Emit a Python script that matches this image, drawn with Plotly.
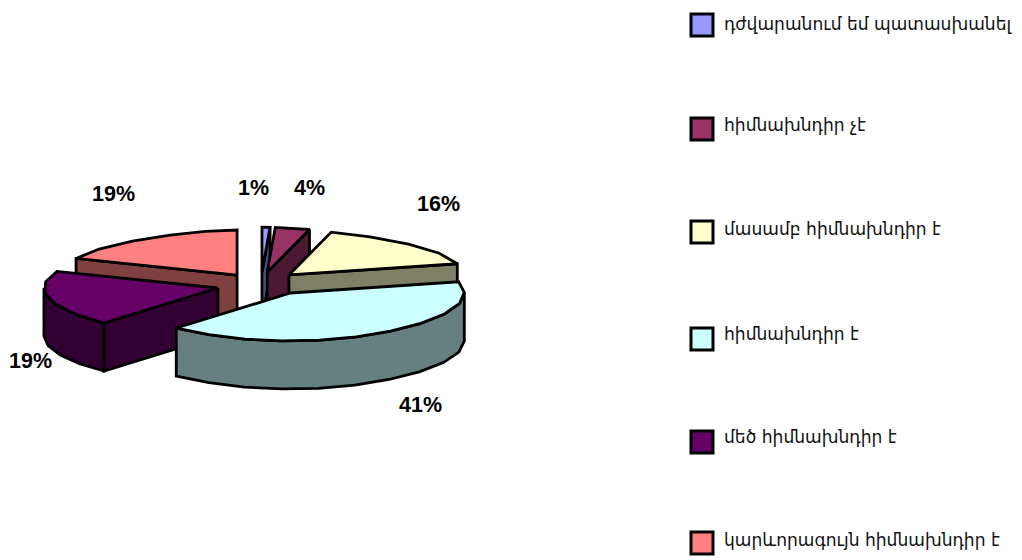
import math
import plotly.graph_objects as go

# ---- data ----
categories = ["դժվարանում եմ պատասխանել", "հիմնախնդիր չէ", "մասամբ հիմնախնդիր է",
              "հիմնախնդիր է", "մեծ հիմնախնդիր է", "կարևորագույն հիմնախնդիր է"]
values = [1, 4, 16, 41, 19, 19]
colors = ["#9999FF", "#993366", "#FFFFCC", "#CCFFFF", "#660066", "#FF8080"]

# ---- layout constants of the projected pie ----
CX, CY = 255, 285
RX, RY_BACK, RY_FRONT, DEPTH = 174, 45, 48, 48
PULL_X = [0.04, 0.07, 0.195, 0.203, -0.213, -0.103]
PULL_Y = [-0.265, -0.265, -0.21, 0.167, 0.0625, -0.208]
DRAW_ORDER = [5, 0, 1, 2, 4, 3]
LABEL_X = [253, 309, 438, 420, 30, 113.5]
LABEL_Y = [187.5, 187.5, 203.5, 404.5, 360.5, 193.5]
LEGEND_Y = [25, 129, 232, 339, 442, 543]
LEGEND_TEXT_Y = [24, 125, 229, 334, 437, 540]
STEP = 13.0
PAGE_MARGIN = 8


def half(c):
    r, g, b = (int(c[i:i + 2], 16) // 2 for i in (1, 3, 5))
    return f"#{r:02x}{g:02x}{b:02x}"


def rim(theta):
    t = math.radians(theta)
    c = math.cos(t)
    sx = 1 - (0.26 * c ** 4 if c > 0 else 0.08 * c * c)
    return RX * sx * math.sin(t), -(RY_BACK if c > 0 else RY_FRONT) * c


def arc(a, b):
    n = max(1, round((b - a) / STEP))
    return [rim(a + (b - a) * i / n) for i in range(n + 1)]


fig = go.Figure()


def poly(pts, fill):
    xs = [p[0] for p in pts] + [pts[0][0]]
    ys = [p[1] for p in pts] + [pts[0][1]]
    fig.add_trace(go.Scatter(x=xs, y=ys, mode="lines", fill="toself", fillcolor=fill,
                             line=dict(color="black", width=2.8), hoverinfo="skip",
                             showlegend=False))


total = sum(values)
starts = [360 * sum(values[:i]) / total for i in range(len(values))]
ends = [360 * sum(values[:i + 1]) / total for i in range(len(values))]

for i in DRAW_ORDER:
    a, b = starts[i], ends[i]
    ax, ay = CX + PULL_X[i] * RX, CY + PULL_Y[i] * RY_FRONT
    at = lambda p, dz=0: (ax + p[0], ay + p[1] + dz)
    side = half(colors[i])
    top = [at(p) for p in arc(a, b)]
    apex = (ax, ay)
    # radial faces that look towards the viewer
    if math.sin(math.radians(a)) < -1e-6:
        pa = at(rim(a))
        poly([apex, pa, (pa[0], pa[1] + DEPTH), (ax, ay + DEPTH)], side)
    if math.sin(math.radians(b)) > 1e-6:
        pb = at(rim(b))
        poly([apex, pb, (pb[0], pb[1] + DEPTH), (ax, ay + DEPTH)], side)
    # front part of the outer wall
    wa, wb = max(a, 90), min(b, 270)
    if wb > wa:
        upper = [at(p) for p in arc(wa, wb)]
        lower = [(x, y + DEPTH) for x, y in reversed(upper)]
        poly(upper + lower, side)
    poly([apex] + top, colors[i])

# percentage labels
for v, x, y in zip(values, LABEL_X, LABEL_Y):
    fig.add_annotation(x=x, y=y, text=f"<b>{v}%</b>", showarrow=False, xanchor="center", yanchor="middle",
                       font=dict(family="Liberation Sans", size=21.5, color="black"))

# legend
fig.add_trace(go.Scatter(x=[702] * len(categories), y=LEGEND_Y, mode="markers", hoverinfo="skip",
                         marker=dict(symbol="square", size=22, color=colors, line=dict(color="black", width=3)),
                         showlegend=False))
for name, y in zip(categories, LEGEND_TEXT_Y):
    fig.add_annotation(x=721.5, y=y, text=name, showarrow=False, xanchor="left", yanchor="middle",
                       font=dict(family="DejaVu Sans", size=17.1, color="#111111"))

fig.update_xaxes(visible=False, range=[PAGE_MARGIN, 1022], fixedrange=True)
fig.update_yaxes(visible=False, range=[560, PAGE_MARGIN], fixedrange=True)
fig.update_layout(width=1022 - PAGE_MARGIN, height=560 - PAGE_MARGIN, margin=dict(l=0, r=0, t=0, b=0),
                  paper_bgcolor="white", plot_bgcolor="white", showlegend=False)
fig.write_html("out.html")
